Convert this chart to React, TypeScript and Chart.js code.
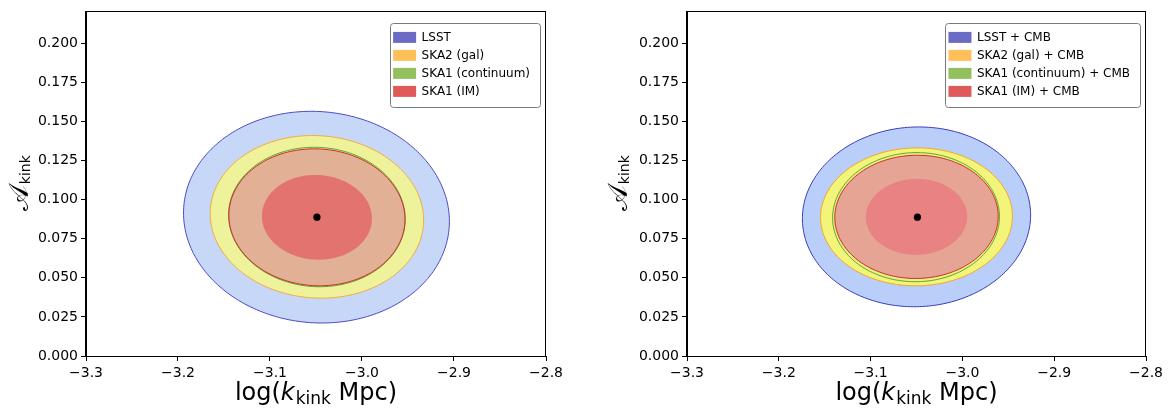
import React, { useEffect, useRef } from "react";
import { Chart, registerables } from "chart.js";

Chart.register(...registerables);

// ---------- data ----------
const xTickValues = [-3.3, -3.2, -3.1, -3.0, -2.9, -2.8];
const yTickValues = [0, 0.025, 0.05, 0.075, 0.1, 0.125, 0.15, 0.175, 0.2];
const xLimits = [-3.3, -2.8];
const yLimits = [0, 0.2204];

const fiducialX = [-3.049];
const fiducialY = [0.0888];

// left panel: galaxy / IM surveys alone (2-sigma ellipses)
const leftLabels = ["LSST", "SKA2 (gal)", "SKA1 (continuum)", "SKA1 (IM)"];
const leftCenterX = [-3.0495, -3.049, -3.049, -3.049];
const leftCenterY = [0.0888, 0.089, 0.0889, 0.0887];
const leftHalfWidth = [0.1445, 0.116, 0.096, 0.0957];
const leftHalfHeight = [0.0677, 0.052, 0.0446, 0.0438];
const leftCorr = [-0.04, -0.04, -0.03, -0.03];
const leftInnerIM = [0.0598, 0.0271]; // 1-sigma SKA1 (IM) half width / half height

// right panel: surveys + CMB
const rightLabels = ["LSST + CMB", "SKA2 (gal) + CMB", "SKA1 (continuum) + CMB", "SKA1 (IM) + CMB"];
const rightCenterX = [-3.05, -3.05, -3.0505, -3.05];
const rightCenterY = [0.089, 0.089, 0.0888, 0.089];
const rightHalfWidth = [0.1243, 0.1045, 0.0909, 0.089];
const rightHalfHeight = [0.0575, 0.0441, 0.0413, 0.0394];
const rightCorr = [0.02, 0.01, 0.01, 0.01];
const rightInnerIM = [0.0552, 0.0243];

// ---------- styles ----------
const legendColors = ["#6b6bc5", "#ffc05a", "#92c05e", "#e05a5a"];
const leftStyle = {
  fills: ["#c7d7f8", "#eef29a", "#e4ec94", "#e1b095"],
  edges: ["#4b4bc0", "#f2ac3c", "#5fa535", "#c92a2a"],
  inner: "#e3736f",
};
const rightStyle = {
  fills: ["#b9cff9", "#f2f57a", "#e9f07e", "#e6a594"],
  edges: ["#3a3ab8", "#f5a623", "#5fa535", "#c92a2a"],
  inner: "#e98383",
};
const FONT = "'DejaVu Sans', sans-serif";

type PanelProps = {
  labels: string[];
  cx: number[];
  cy: number[];
  hw: number[];
  hh: number[];
  corr: number[];
  inner: number[];
  style: { fills: string[]; edges: string[]; inner: string };
  width: number;
  yAxisWidth: number;
  rightPad: number;
  yTitleX: number;
};

function ellipsePath(ctx: CanvasRenderingContext2D, chart: any, cx: number, cy: number, a: number, b: number, rho: number) {
  const xs = chart.scales.x;
  const ys = chart.scales.y;
  const n = 240;
  const s = Math.sqrt(1 - rho * rho);
  ctx.beginPath();
  for (let i = 0; i <= n; i++) {
    const t = (i / n) * Math.PI * 2;
    const vx = cx + a * Math.cos(t);
    const vy = cy + b * (rho * Math.cos(t) + s * Math.sin(t));
    const px = xs.getPixelForValue(vx);
    const py = ys.getPixelForValue(vy);
    if (i === 0) ctx.moveTo(px, py);
    else ctx.lineTo(px, py);
  }
  ctx.closePath();
}

function Panel(p: PanelProps) {
  const ref = useRef<HTMLCanvasElement | null>(null);
  useEffect(() => {
    if (!ref.current) return;
    const ellipsePlugin = {
      id: "ellipses",
      beforeDatasetsDraw(chart: any) {
        const ctx = chart.ctx;
        ctx.save();
        for (let i = 0; i < p.labels.length; i++) {
          ellipsePath(ctx, chart, p.cx[i], p.cy[i], p.hw[i], p.hh[i], p.corr[i]);
          ctx.fillStyle = p.style.fills[i];
          ctx.fill();
          ctx.lineWidth = 1;
          ctx.strokeStyle = p.style.edges[i];
          ctx.stroke();
        }
        const last = p.labels.length - 1;
        ellipsePath(ctx, chart, p.cx[last], p.cy[last], p.inner[0], p.inner[1], p.corr[last]);
        ctx.fillStyle = p.style.inner;
        ctx.fill();
        ctx.restore();
      },
    };
    const framePlugin = {
      id: "frameAndText",
      afterDraw(chart: any) {
        const ctx = chart.ctx;
        const ca = chart.chartArea;
        ctx.save();
        // frame
        ctx.strokeStyle = "#000";
        ctx.lineWidth = 1;
        ctx.strokeRect(Math.round(ca.left) - 0.5, Math.round(ca.top) + 0.5, Math.round(ca.right - ca.left), Math.round(ca.bottom - ca.top));
        // legend
        ctx.font = `12px ${FONT}`;
        let maxW = 0;
        for (const l of p.labels) maxW = Math.max(maxW, ctx.measureText(l).width);
        const boxW = 32 + maxW + 10;
        const boxH = 84;
        const bx = ca.right - 6 - boxW;
        const by = ca.top + 12;
        ctx.beginPath();
        (ctx as any).roundRect(Math.round(bx) + 0.5, Math.round(by) + 0.5, Math.round(boxW), boxH, 3);
        ctx.fillStyle = "rgba(255,255,255,0.85)";
        ctx.fill();
        ctx.strokeStyle = "#7a7a7a";
        ctx.stroke();
        ctx.textBaseline = "middle";
        ctx.textAlign = "left";
        for (let i = 0; i < p.labels.length; i++) {
          const ry = by + 14 + i * 18;
          ctx.fillStyle = legendColors[i];
          ctx.fillRect(bx + 3.5, ry - 5.5, 23, 11);
          ctx.fillStyle = "#000";
          ctx.fillText(p.labels[i], bx + 32, ry + 0.5);
        }
        // x title: log(k_kink Mpc)
        const mainF = `24px ${FONT}`;
        const italF = `italic 24px ${FONT}`;
        const subF = `17px ${FONT}`;
        const parts: [string, string, number, number][] = [
          ["log(", mainF, 0, 0],
          ["k", italF, 0, 1],
          ["kink", subF, 4, 0],
          [" Mpc)", mainF, 0, 0],
        ];
        let total = 0;
        for (const [t, f, , gap] of parts) {
          ctx.font = f;
          total += ctx.measureText(t).width + gap;
        }
        let x = (ca.left + ca.right) / 2 - total / 2;
        const base = 400;
        ctx.textBaseline = "alphabetic";
        ctx.fillStyle = "#000";
        for (const [t, f, dy, gap] of parts) {
          ctx.font = f;
          ctx.fillText(t, x, base + dy);
          x += ctx.measureText(t).width + gap;
        }
        // y title: A_kink (rotated)
        ctx.save();
        ctx.translate(p.yTitleX, (ca.top + ca.bottom) / 2);
        ctx.rotate(-Math.PI / 2);
        const aF = `27px ${FONT}`;
        const sF = `14px ${FONT}`;
        ctx.font = aF;
        const aW = ctx.measureText("\u{1D49C}").width;
        ctx.font = sF;
        const sW = ctx.measureText("kink").width;
        const start = -(aW + sW) / 2;
        ctx.font = aF;
        ctx.fillText("\u{1D49C}", start, 0);
        ctx.font = sF;
        ctx.fillText("kink", start + aW + 1, 2);
        ctx.restore();
        ctx.restore();
      },
    };
    const chart = new Chart(ref.current, {
      type: "scatter",
      data: {
        datasets: [
          {
            label: "fiducial",
            data: fiducialX.map((v, i) => ({ x: v, y: fiducialY[i] })),
            pointRadius: 3.6,
            pointBackgroundColor: "#000",
            pointBorderWidth: 0,
          },
        ],
      },
      options: {
        responsive: false,
        animation: false,
        events: [],
        layout: { padding: { left: 0, right: p.rightPad, top: 11, bottom: 0 } },
        plugins: { legend: { display: false }, tooltip: { enabled: false } },
        scales: {
          x: {
            type: "linear",
            min: xLimits[0],
            max: xLimits[1],
            afterBuildTicks: (s: any) => {
              s.ticks = xTickValues.map((v) => ({ value: v }));
            },
            afterFit: (s: any) => {
              s.height = 53;
            },
            grid: { drawOnChartArea: false, drawTicks: true, tickLength: 5, color: "#000", lineWidth: 1 },
            border: { display: true, color: "#000" },
            ticks: {
              font: { family: FONT, size: 14 },
              color: "#000",
              padding: 4,
              maxRotation: 0,
              callback: (v: any) => (Number(v) < 0 ? "\u2212" : "") + Math.abs(Number(v)).toFixed(1),
            },
          },
          y: {
            type: "linear",
            min: yLimits[0],
            max: yLimits[1],
            afterBuildTicks: (s: any) => {
              s.ticks = yTickValues.map((v) => ({ value: v }));
            },
            afterFit: (s: any) => {
              s.width = p.yAxisWidth;
            },
            grid: { drawOnChartArea: false, drawTicks: true, tickLength: 5, color: "#000", lineWidth: 1 },
            border: { display: true, color: "#000" },
            ticks: {
              font: { family: FONT, size: 14 },
              color: "#000",
              padding: 3,
              callback: (v: any) => Number(v).toFixed(3),
            },
          },
        },
      },
      plugins: [ellipsePlugin, framePlugin],
    } as any);
    return () => chart.destroy();
  }, []);
  return <canvas ref={ref} width={p.width} height={409} style={{ display: "block", width: p.width, height: 409 }} />;
}

export default function App() {
  return (
    <div style={{ position: "absolute", left: 0, top: 0, width: 1173, height: 409, background: "#fff", display: "flex" }}>
      <Panel
        labels={leftLabels}
        cx={leftCenterX}
        cy={leftCenterY}
        hw={leftHalfWidth}
        hh={leftHalfHeight}
        corr={leftCorr}
        inner={leftInnerIM}
        style={leftStyle}
        width={586}
        yAxisWidth={86}
        rightPad={40}
        yTitleX={28}
      />
      <Panel
        labels={rightLabels}
        cx={rightCenterX}
        cy={rightCenterY}
        hw={rightHalfWidth}
        hh={rightHalfHeight}
        corr={rightCorr}
        inner={rightInnerIM}
        style={rightStyle}
        width={587}
        yAxisWidth={101}
        rightPad={27}
        yTitleX={41}
      />
    </div>
  );
}
